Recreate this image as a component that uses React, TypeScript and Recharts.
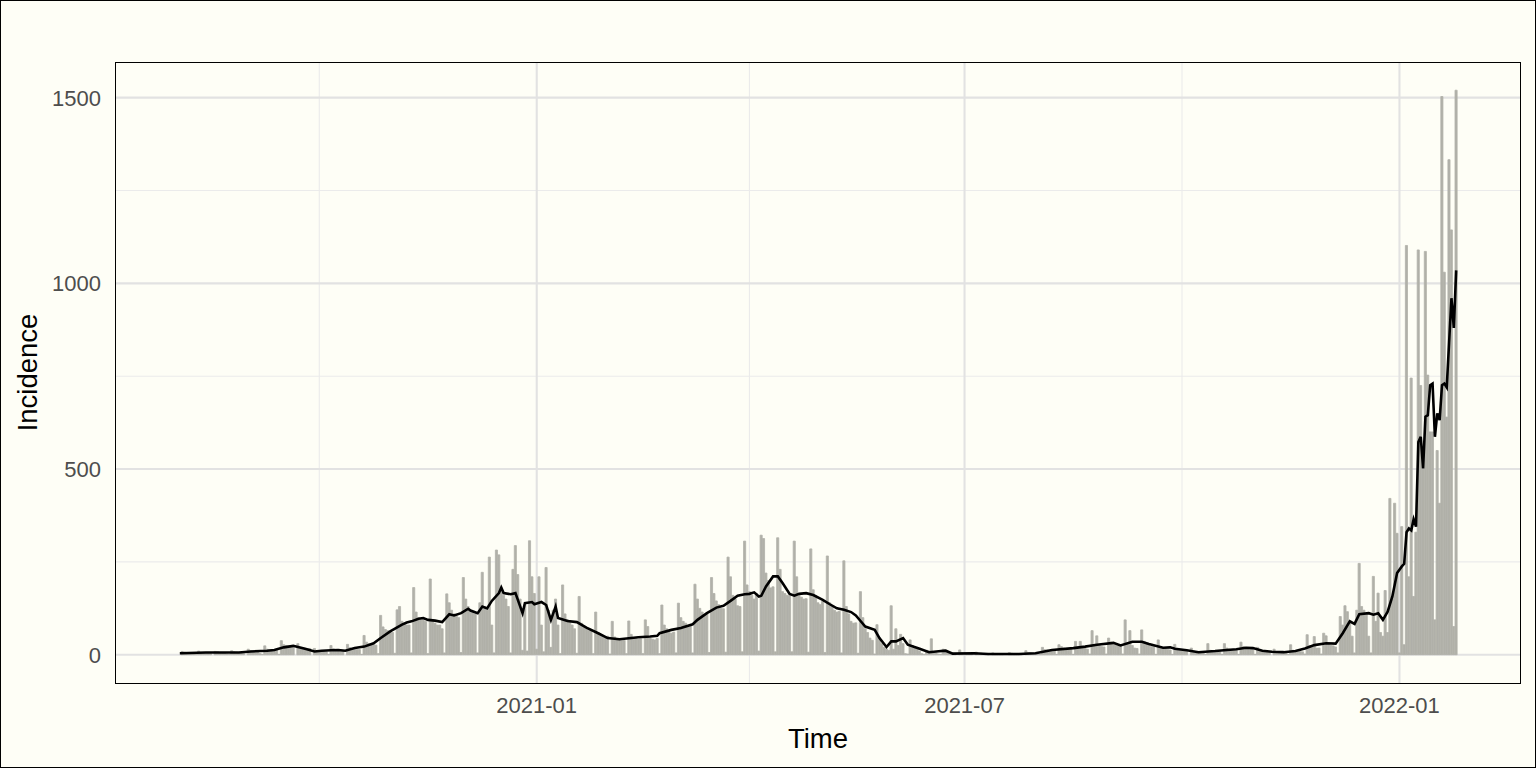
import React from 'react';
import { ComposedChart, Bar, Line, XAxis, YAxis, CartesianGrid } from 'recharts';

// Day numbers are counted from 2021-01-01 (day 0). First bar: 2020-08-03.
const FIRST_DAY = -151;

// Daily incidence, one row per week (Mon..Sun)
const dailyIncidence: number[] = [
  0, 9, 7, 6, 5, 5, 2,
  1, 10, 6, 6, 5, 4, 3,
  0, 9, 8, 5, 6, 5, 2,
  1, 11, 8, 7, 6, 6, 3,
  0, 15, 11, 10, 9, 8, 3,
  1, 24, 15, 14, 13, 12, 12,
  1, 38, 27, 25, 24, 23, 22,
  0, 30, 20, 18, 17, 17, 17,
  0, 17, 11, 9, 9, 9, 8,
  1, 25, 16, 14, 13, 12, 11,
  0, 28, 19, 17, 15, 14, 14,
  1, 52, 34, 30, 28, 27, 26,
  3, 106, 75, 68, 65, 62, 60,
  4, 121, 130, 90, 85, 80, 80,
  5, 181, 115, 100, 95, 95, 90,
  3, 204, 95, 85, 80, 80, 70,
  5, 164, 140, 120, 110, 105, 100,
  6, 208, 150, 130, 120, 115, 110,
  5, 140, 222, 130, 120, 263, 80,
  5, 282, 269, 180, 160, 150, 130,
  5, 230, 294, 216, 150, 12, 135,
  10, 307, 210, 165, 15, 210, 80,
  8, 235, 120, 20, 120, 150, 80,
  3, 188, 110, 95, 90, 80, 70,
  4, 157, 85, 75, 70, 65, 65,
  3, 115, 60, 52, 50, 48, 50,
  2, 90, 48, 42, 40, 38, 39,
  3, 91, 55, 45, 43, 42, 43,
  3, 94, 76, 45, 42, 40, 44,
  3, 134, 80, 70, 60, 58, 61,
  5, 139, 100, 90, 85, 78, 80,
  5, 190, 150, 125, 115, 108, 110,
  6, 208, 165, 145, 135, 125, 124,
  7, 263, 210, 160, 150, 132, 130,
  8, 306, 188, 170, 160, 150, 165,
  10, 322, 313, 220, 200, 180, 183,
  8, 315, 230, 170, 165, 160, 159,
  8, 306, 210, 160, 155, 150, 151,
  7, 285, 175, 160, 140, 135, 144,
  6, 266, 140, 130, 120, 115, 117,
  5, 253, 130, 110, 90, 85, 86,
  4, 170, 100, 70, 60, 45, 39,
  2, 81, 45, 30, 20, 15, 12,
  132, 15, 70, 25, 55, 30, 3,
  2, 40, 25, 20, 15, 10, 3,
  1, 12, 10, 43, 8, 5, 2,
  1, 15, 8, 6, 5, 4, 1,
  0, 13, 5, 4, 3, 3, 1,
  0, 7, 4, 4, 3, 2, 1,
  0, 5, 3, 3, 2, 2, 0,
  0, 6, 4, 3, 3, 2, 1,
  0, 11, 6, 6, 5, 4, 2,
  1, 20, 14, 13, 12, 11, 10,
  1, 27, 22, 18, 16, 15, 14,
  1, 36, 22, 36, 20, 18, 15,
  2, 65, 26, 51, 24, 22, 21,
  2, 45, 34, 32, 27, 25, 24,
  2, 94, 30, 65, 25, 18, 17,
  2, 67, 36, 32, 26, 22, 22,
  1, 40, 22, 18, 16, 14, 13,
  1, 28, 16, 12, 11, 10, 9,
  0, 18, 9, 8, 7, 6, 7,
  1, 30, 12, 10, 9, 8, 8,
  1, 30, 18, 15, 13, 12, 12,
  1, 34, 22, 18, 16, 15, 15,
  1, 20, 12, 10, 9, 8, 9,
  0, 15, 8, 7, 6, 6, 6,
  1, 27, 12, 10, 9, 9, 8,
  2, 54, 25, 22, 49, 18, 18,
  2, 58, 51, 30, 26, 24, 21,
  5, 103, 80, 132, 116, 90, 50,
  5, 120, 246, 130, 120, 110, 50,
  5, 211, 90, 166, 60, 50, 173,
  60, 421, 150, 408, 327, 5, 345,
  27, 1102, 210, 745, 157, 330, 1090,
  725, 500, 1086, 753, 600, 600, 94,
  550, 408, 1503, 1030, 640, 1333, 1144,
  76, 1520,
];

// Rolling-average line (day, value)
const avgDays: number[] = [
  -151, -140, -126, -121, -114, -111, -107, -103, -101, -98, -94, -91, -87, -84,
  -81, -77, -73, -69, -66, -62, -57, -55, -53, -50, -48, -46, -43, -40, -37, -35,
  -32, -29, -28, -25, -23, -21, -19, -16, -15, -14, -11, -9, -6, -5, -2, -1,
  2, 4, 6, 8, 9, 13, 17, 21, 26, 30, 35, 43, 48, 51,
  52, 57, 61, 66, 68, 72, 76, 79, 82, 85, 88, 90, 92, 94, 95, 97, 100, 102, 104,
  107, 109, 111, 114, 117, 121, 124, 127, 130, 133, 135, 137, 139, 143, 145, 148,
  150, 152, 155, 157, 162, 166, 169, 173, 176, 185, 191, 204, 211, 218, 227, 232,
  237, 244, 247, 252, 256, 259, 265, 268, 270, 275, 280, 287, 292, 296, 300, 303,
  307, 311, 316, 321, 325, 329, 334, 338, 341, 344, 346, 348, 352, 354, 356, 358,
  360, 362, 364, 366, 367, 368, 369, 370, 371, 372, 373, 374, 375, 376, 377, 378,
  379, 380, 381, 382, 383, 384, 385, 386, 387, 388, 389,
];
const avgValues: number[] = [
  4, 6, 6, 9, 11, 13, 20, 24, 21, 16, 9, 11, 12, 13,
  11, 18, 22, 31, 45, 63, 81, 87, 90, 97, 99, 94, 92, 88, 109, 106,
  112, 124, 119, 112, 130, 125, 145, 166, 181, 166, 163, 166, 112, 139, 142, 136,
  142, 134, 94, 130, 99, 91, 88, 73, 58, 45, 42, 47, 49, 51,
  58, 67, 72, 82, 94, 112, 127, 132, 145, 159, 163, 164, 168, 157, 159, 184, 211, 211, 193,
  164, 159, 164, 166, 161, 148, 136, 125, 121, 115, 106, 91, 76, 67, 45, 21,
  36, 36, 45, 27, 16, 7, 9, 11, 3, 4, 2, 2, 4, 13, 18, 22,
  27, 32, 25, 35, 35, 29, 19, 20, 16, 12, 7, 10, 13, 15, 19, 18,
  11, 8, 7, 10, 17, 26, 31, 30, 58, 90, 83, 109, 112, 108, 112, 94,
  116, 157, 220, 238, 245, 330, 340, 335, 365, 345, 573, 587, 502, 641, 645, 726,
  730, 587, 650, 632, 726, 730, 720, 840, 960, 880, 1035,
];

const xTickDays = [0, 181, 365];
const xTickLabels = ['2021-01', '2021-07', '2022-01'];
const xMinorDays = [-92, 90, 273];
const yTicks = [0, 500, 1000, 1500];
const yMinorTicks = [250, 750, 1250];

const barData = dailyIncidence.map((v, i) => ({ day: FIRST_DAY + i, cases: v }));
const lineData = avgDays.map((d, i) => ({ day: d, avg: avgValues[i] }));

const FONT = '"Liberation Sans", Arial, Helvetica, sans-serif';
const BAR_GREY = '#b1b1a9';

const XTick = (props: any) => {
  const { x, payload } = props;
  const idx = xTickDays.indexOf(payload.value);
  return (
    <text x={x} y={713} textAnchor="middle" fill="#4d4d4d" fontSize={22} fontFamily={FONT}>
      {idx >= 0 ? xTickLabels[idx] : payload.value}
    </text>
  );
};

const YTick = (props: any) => {
  const { y, payload } = props;
  return (
    <text x={101} y={y} dy={8} textAnchor="end" fill="#4d4d4d" fontSize={22} fontFamily={FONT}>
      {payload.value}
    </text>
  );
};

export default function App() {
  return (
    <div style={{ position: 'absolute', left: 0, top: 0, width: 1536, height: 768, background: '#fefef6', overflow: 'hidden' }}>
      <ComposedChart
        width={1536}
        height={768}
        data={barData}
        margin={{ top: 62, right: 16, bottom: 55, left: 56 }}
        barCategoryGap={0}
        barGap={0}
      >
        <CartesianGrid horizontalValues={yMinorTicks} verticalValues={xMinorDays} stroke="#ebebeb" strokeWidth={1.1} />
        <CartesianGrid horizontalValues={yTicks} verticalValues={xTickDays} stroke="#e2e2e2" strokeWidth={2.1} />
        <XAxis
          dataKey="day"
          type="number"
          domain={[-178, 416]}
          ticks={xTickDays}
          tick={<XTick />}
          axisLine={false}
          tickLine={false}
          height={30}
          allowDataOverflow
        />
        <YAxis
          type="number"
          domain={[-76, 1596]}
          ticks={yTicks}
          tick={<YTick />}
          axisLine={false}
          tickLine={false}
          width={60}
          allowDataOverflow
        />
        <Bar dataKey="cases" fill={BAR_GREY} stroke={BAR_GREY} strokeWidth={0.8} barSize={2.364} isAnimationActive={false} />
        <Line data={lineData} dataKey="avg" type="linear" stroke="#000000" strokeWidth={2.6} dot={false} isAnimationActive={false} />
      </ComposedChart>
      <svg width={1536} height={768} style={{ position: 'absolute', left: 0, top: 0, pointerEvents: 'none' }}>
        <text x={818} y={748} textAnchor="middle" fill="#000" fontSize={27.5} fontFamily={FONT}>Time</text>
        <text transform="translate(37,372.5) rotate(-90)" textAnchor="middle" fill="#000" fontSize={27.5} fontFamily={FONT}>Incidence</text>
      </svg>
      <div style={{ position: 'absolute', left: 115, top: 62, width: 1406, height: 622, border: '1px solid #000', boxSizing: 'border-box', pointerEvents: 'none' }} />
      <div style={{ position: 'absolute', left: 0, top: 0, width: 1536, height: 768, border: '1px solid #000', boxSizing: 'border-box', pointerEvents: 'none' }} />
    </div>
  );
}
